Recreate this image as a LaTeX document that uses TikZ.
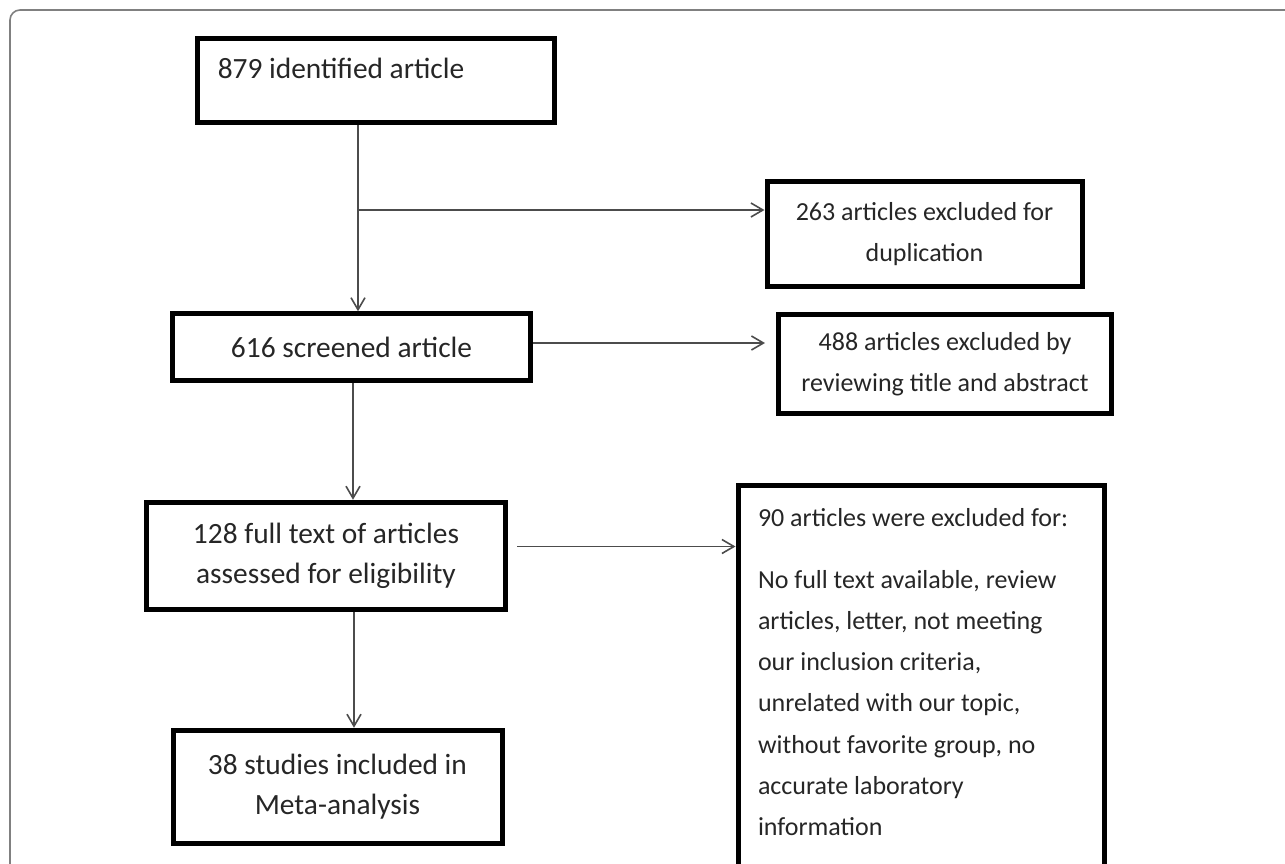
\documentclass[tikz,border=0pt]{standalone}
\usepackage{fontspec}
\setmainfont{Carlito}
\usetikzlibrary{arrows.meta}
\begin{document}
\begin{tikzpicture}[x=0.5pt,y=-0.5pt,
  box/.style={draw=black,line width=2.5pt,inner xsep=10pt,inner ysep=0pt,text=black!85,font=\fontsize{13}{20.6}\selectfont},
  bigbox/.style={box,font=\fontsize{14.7}{20}\selectfont},
  leftbox/.style={align=flush left,execute at begin node={\spaceskip=0pt\xspaceskip=0pt\relax}},
  link/.style={draw=black!70,line width=0.8pt,-{Straight Barb[length=6pt,width=7pt]}}]
\useasboundingbox (0,0) rectangle (1285,863);
\clip (0,0) rectangle (1285,863);
\draw[black!50,line width=0.8pt,rounded corners=5pt] (10,10) rectangle (1320,900);
\node[bigbox,leftbox,minimum width=178pt,minimum height=42pt,text width=158.25pt,text height=9pt,text depth=11.5pt] (ident) at (376,80.5) {879 identified article};
\node[bigbox,minimum width=179pt,minimum height=33.25pt] (screen) at (351.5,347) {616 screened article};
\node[box,minimum width=157.5pt,minimum height=52.75pt,align=center] (dup) at (924.5,234) {263 articles excluded for\\duplication};
\node[box,minimum width=166.25pt,minimum height=49.75pt,align=center] (review) at (945,364) {488 articles excluded by\\reviewing title and abstract};
\node[bigbox,minimum width=179.25pt,minimum height=53.75pt,align=center] (elig) at (326,556) {128 full text of articles\\assessed for eligibility};
\node[bigbox,minimum width=164.5pt,minimum height=56.75pt,align=center] (incl) at (337.5,787) {38 studies included in\\Meta-analysis};
\node[box,leftbox,anchor=north west,text width=163pt,inner ysep=10.5pt,text height=10pt,text depth=190pt] (excl) at (735.5,483) {90 articles were excluded for:\\[10.3pt]
No full text available, review\\
articles, letter, not meeting\\
our inclusion criteria,\\
unrelated with our topic,\\
without favorite group, no\\
accurate laboratory\\
information};
\coordinate (j1) at (358,210);
\coordinate (j2) at (765,343);
\coordinate (j3) at (353,450);
\coordinate (j4) at (517,546.5);
\coordinate (j5) at (354,670);
\draw[link] (ident.south -| j1) -- (screen.north -| j1);
\draw[link] (j1) -- (j1 -| dup.west);
\draw[link] (screen.east |- j2) -- (j2);
\draw[link] (screen.south -| j3) -- (elig.north -| j3);
\draw[link] (j4) -- (excl.west |- j4);
\draw[link] (elig.south -| j5) -- (incl.north -| j5);
\end{tikzpicture}
\end{document}
